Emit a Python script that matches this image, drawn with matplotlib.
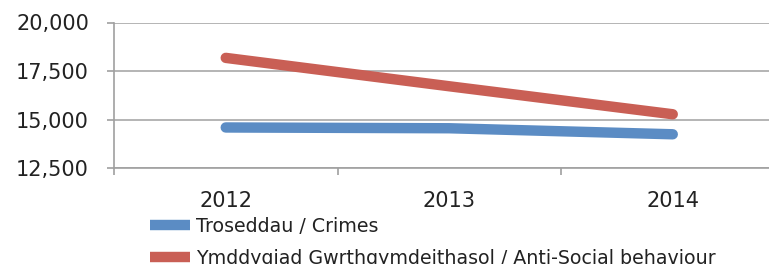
import matplotlib.pyplot as plt
from matplotlib.lines import Line2D

# Data
years = ['2012', '2013', '2014']
crimes = [14600, 14560, 14250]
asb = [18180, 16720, 15280]
labels = ['Troseddau / Crimes',
          'Ymddygiad Gwrthgymdeithasol / Anti-Social behaviour']
colors = ['#5B8CC4', '#C95F55']
yticks = [12500, 15000, 17500, 20000]

fig = plt.figure(figsize=(7.69, 2.64), dpi=100)
ax = fig.add_axes([114/769, (264-168.3)/264, 670.5/769, (168.3-22.5)/264])

x = range(len(years))
ax.plot(x, crimes, color=colors[0], lw=7.5, solid_capstyle='round', zorder=3)
ax.plot(x, asb, color=colors[1], lw=7.5, solid_capstyle='round', zorder=3)

ax.set_xlim(-0.5, 2.5)
ax.set_ylim(12500, 20000)
ax.set_yticks(yticks)
ax.set_yticklabels([f'{v:,}' for v in yticks], fontsize=15, color='#222222')
ax.set_xticks(list(x))
ax.set_xticklabels(years, fontsize=15, color='#222222')
ax.set_xticks([-0.5, 0.5, 1.5, 2.5], minor=True)
ax.tick_params(axis='x', which='major', length=0, pad=16)
ax.tick_params(axis='x', which='minor', length=5, width=1.2, color='#A0A0A0')
ax.tick_params(axis='y', length=5, width=1.2, color='#A0A0A0', pad=13)

ax.grid(axis='y', color='#A8A8A8', lw=1.2)
ax.set_axisbelow(True)
for s in ['top', 'right']:
    ax.spines[s].set_visible(False)
for s in ['left', 'bottom']:
    ax.spines[s].set_color('#A0A0A0')
    ax.spines[s].set_linewidth(1.2)

handles = [Line2D([], [], color=c, lw=7.5, solid_capstyle='butt') for c in colors]
fig.legend(handles, labels, loc='upper left', bbox_to_anchor=(150/769, 1 - 217/264),
           frameon=False, fontsize=13.7, handlelength=2.1, handletextpad=0.3,
           labelspacing=0.66, borderpad=0, borderaxespad=0, labelcolor='#222222')

fig.savefig('out.png', dpi=100)
